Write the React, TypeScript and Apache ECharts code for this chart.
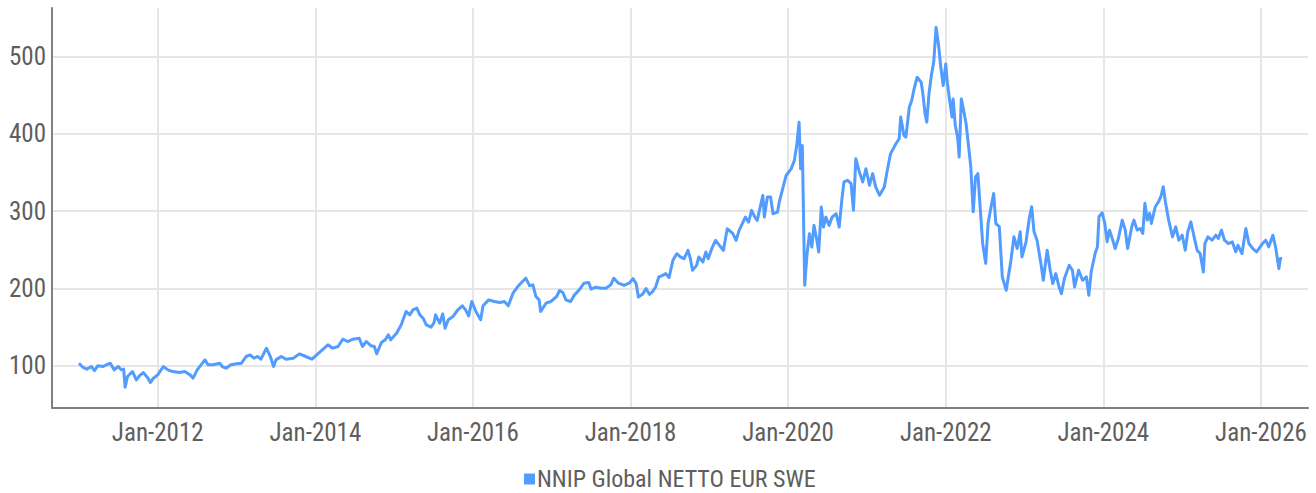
import React, { useEffect, useRef } from "react";
import * as echarts from "echarts";

const seriesName = "NNIP Global NETTO EUR SWE";

const dates: string[] = [
  "2011-01-01","2011-01-19","2011-02-06","2011-02-28","2011-03-14","2011-03-29","2011-04-23","2011-05-08","2011-05-26","2011-06-13",
  "2011-07-02","2011-07-16","2011-07-27","2011-08-03","2011-08-14","2011-09-06","2011-09-24","2011-10-08","2011-10-26","2011-11-17",
  "2011-11-28","2011-12-12","2012-01-01","2012-01-27","2012-02-17","2012-03-11","2012-04-12","2012-05-05","2012-05-30","2012-06-13",
  "2012-07-02","2012-07-20","2012-08-07","2012-08-21","2012-09-13","2012-10-15","2012-10-26","2012-11-13","2012-12-05","2013-01-01",
  "2013-01-23","2013-02-14","2013-03-04","2013-03-22","2013-04-09","2013-04-23","2013-05-19","2013-06-06","2013-06-21","2013-07-02",
  "2013-07-27","2013-08-18","2013-09-20","2013-10-19","2013-11-17","2013-12-16","2014-01-12","2014-02-06","2014-02-28","2014-03-22",
  "2014-04-16","2014-05-08","2014-05-30","2014-06-24","2014-07-23","2014-08-07","2014-08-25","2014-09-16","2014-10-01","2014-10-12",
  "2014-11-03","2014-11-21","2014-12-05","2014-12-16","2015-01-12","2015-02-03","2015-02-25","2015-03-14","2015-03-29","2015-04-16",
  "2015-04-30","2015-05-15","2015-05-30","2015-06-21","2015-07-05","2015-07-12","2015-07-31","2015-08-14","2015-08-25","2015-09-09",
  "2015-10-01","2015-10-23","2015-11-13","2015-11-28","2015-12-12","2015-12-27","2016-01-15","2016-02-06","2016-02-17","2016-03-14",
  "2016-04-09","2016-05-05","2016-05-26","2016-06-13","2016-07-05","2016-07-27","2016-08-18","2016-09-02","2016-09-20","2016-10-05",
  "2016-10-19","2016-11-03","2016-11-10","2016-12-05","2016-12-27","2017-01-23","2017-02-06","2017-02-21","2017-03-07","2017-03-29",
  "2017-04-16","2017-05-08","2017-05-30","2017-06-21","2017-07-02","2017-07-23","2017-08-18","2017-09-09","2017-10-01","2017-10-15",
  "2017-11-06","2017-12-02","2017-12-27","2018-01-12","2018-01-27","2018-02-06","2018-02-25","2018-03-14","2018-03-29","2018-04-12",
  "2018-04-27","2018-05-12","2018-05-30","2018-06-13","2018-06-28","2018-07-16","2018-08-03","2018-08-21","2018-09-06","2018-09-24",
  "2018-10-05","2018-10-15","2018-11-03","2018-11-13","2018-12-02","2018-12-16","2018-12-27","2019-01-15","2019-01-30","2019-02-17",
  "2019-03-07","2019-03-25","2019-04-20","2019-05-05","2019-05-19","2019-06-17","2019-07-02","2019-07-16","2019-07-31","2019-08-11",
  "2019-09-06","2019-09-13","2019-09-27","2019-10-12","2019-10-23","2019-11-13","2019-11-21","2019-12-05","2019-12-23","2020-01-15",
  "2020-01-30","2020-02-10","2020-02-21","2020-02-28","2020-03-07","2020-03-18","2020-03-29","2020-04-09","2020-04-20","2020-04-30",
  "2020-05-12","2020-05-22","2020-06-03","2020-06-13","2020-06-24","2020-07-09","2020-07-23","2020-08-11","2020-08-25","2020-09-06",
  "2020-09-16","2020-10-03","2020-10-19","2020-10-30","2020-11-10","2020-11-24","2020-12-12","2020-12-27","2021-01-12","2021-01-27",
  "2021-02-10","2021-02-28","2021-03-22","2021-04-05","2021-04-20","2021-05-15","2021-05-30","2021-06-06","2021-06-21","2021-06-30",
  "2021-07-16","2021-07-27","2021-08-07","2021-08-21","2021-09-09","2021-09-16","2021-09-27","2021-10-05","2021-10-15","2021-10-26",
  "2021-11-06","2021-11-17","2021-11-28","2021-12-09","2021-12-20","2022-01-01","2022-01-08","2022-01-19","2022-01-30","2022-02-04",
  "2022-02-14","2022-02-25","2022-03-04","2022-03-14","2022-03-25","2022-04-05","2022-04-12","2022-04-27","2022-05-08","2022-05-19",
  "2022-05-30","2022-06-06","2022-06-21","2022-07-05","2022-07-16","2022-07-27","2022-08-11","2022-08-21","2022-09-06","2022-09-20",
  "2022-10-08","2022-10-30","2022-11-13","2022-11-28","2022-12-12","2022-12-20","2023-01-08","2023-01-23","2023-02-03","2023-02-14",
  "2023-02-28","2023-03-18","2023-03-29","2023-04-16","2023-04-30","2023-05-12","2023-05-26","2023-06-10","2023-06-21","2023-07-05",
  "2023-07-27","2023-08-11","2023-08-21","2023-09-09","2023-09-27","2023-10-15","2023-10-26","2023-11-06","2023-11-24","2023-12-05",
  "2023-12-12","2023-12-27","2024-01-08","2024-01-19","2024-01-30","2024-02-14","2024-02-25","2024-03-11","2024-03-29","2024-04-12",
  "2024-04-23","2024-05-12","2024-05-22","2024-06-06","2024-06-21","2024-07-02","2024-07-12","2024-07-23","2024-08-03","2024-08-11",
  "2024-08-29","2024-09-13","2024-09-24","2024-10-05","2024-10-15","2024-10-30","2024-11-17","2024-12-02","2024-12-16","2025-01-01",
  "2025-01-15","2025-01-27","2025-02-10","2025-02-25","2025-03-11","2025-03-25","2025-04-09","2025-04-16","2025-04-30","2025-05-19",
  "2025-06-06","2025-06-17","2025-07-02","2025-07-16","2025-08-03","2025-08-21","2025-09-06","2025-09-16","2025-10-05","2025-10-23",
  "2025-11-06","2025-11-24","2025-12-12","2026-01-08","2026-01-23","2026-02-06","2026-02-25","2026-03-11","2026-03-25","2026-04-01",
  "2026-04-09",
];

const values: number[] = [
  103.0,97.8,95.3,98.7,93.5,99.6,98.7,100.9,103.0,94.4,
  98.7,94.4,95.3,72.0,85.8,92.2,81.4,86.6,90.9,83.6,
  78.0,83.6,87.9,98.7,94.4,92.2,90.9,92.2,87.9,83.6,
  94.4,100.9,107.3,100.9,100.9,103.0,98.7,96.5,100.9,102.2,
  103.0,111.7,113.8,109.5,111.7,108.2,122.4,111.7,98.7,107.3,
  111.7,108.2,109.5,115.1,111.7,108.2,115.1,121.2,126.8,122.5,
  124.6,134.1,131.1,134.1,135.4,124.6,131.1,125.5,124.6,115.1,
  129.8,133.3,139.7,133.3,141.9,152.7,170.0,165.6,172.1,174.3,
  165.6,161.3,152.7,149.7,155.7,165.6,154.8,166.9,148.4,159.2,
  163.5,172.1,177.3,172.1,164.3,182.9,170.0,159.2,177.3,185.0,
  182.9,181.6,182.9,177.3,193.7,202.3,208.8,213.1,203.2,204.5,
  189.4,185.0,170.0,180.7,182.9,189.4,197.2,194.6,185.0,182.9,
  191.5,198.0,206.6,207.5,198.9,201.5,200.2,200.2,204.5,213.1,
  206.6,203.9,206.9,212.5,206.0,188.8,192.2,199.6,192.2,195.3,
  201.7,214.7,216.8,219.0,213.8,236.2,244.8,240.5,238.4,249.1,
  238.4,223.3,229.7,240.5,234.1,247.0,238.4,253.4,262.1,255.6,
  249.1,277.2,270.7,262.1,275.0,292.2,285.8,300.9,292.2,287.9,
  320.3,292.2,318.1,318.1,296.6,298.7,311.6,326.7,346.1,354.7,
  365.5,384.9,415.1,354.7,384.9,203.9,244.8,270.7,253.4,281.5,
  264.2,247.0,305.2,279.3,292.2,281.5,292.2,296.6,279.3,314.1,
  337.7,339.9,335.6,301.1,367.9,352.8,337.7,354.9,333.4,348.5,
  331.3,320.5,331.3,352.8,374.4,387.2,393.7,421.7,398.0,395.8,
  434.6,443.2,458.2,473.3,466.9,453.9,426.0,415.2,451.8,475.5,
  492.7,537.9,516.4,486.2,462.6,490.5,466.9,443.2,421.7,445.3,
  410.9,395.8,370.0,445.3,430.3,413.1,395.8,357.1,299.0,344.2,
  348.5,318.4,258.1,232.3,283.9,301.1,322.7,283.9,280.0,214.7,
  197.4,236.4,266.7,251.5,273.2,240.7,260.2,290.5,305.6,273.2,
  262.3,232.0,210.4,249.4,223.4,206.1,219.0,201.7,193.1,212.6,
  229.9,223.4,201.7,223.4,210.4,214.7,190.9,221.2,245.0,253.7,
  292.6,297.8,284.0,260.2,275.3,262.3,251.5,264.5,288.3,275.3,
  251.5,279.7,288.3,275.3,277.5,271.0,310.0,288.3,297.0,284.0,
  305.6,312.1,318.6,331.6,312.1,288.3,266.7,279.7,262.3,268.8,
  249.4,273.2,286.1,266.7,249.4,245.0,221.2,258.0,266.7,262.3,
  268.8,264.5,275.3,262.3,258.0,260.2,247.2,255.8,245.0,277.5,
  258.0,251.5,247.2,258.0,262.3,253.7,268.8,251.5,225.5,238.5,
  238.5,
];

const xTickDates: string[] = ["2012-01-01","2014-01-01","2016-01-01","2018-01-01","2020-01-01","2022-01-01","2024-01-01","2026-01-01"];
const yTicks: number[] = [100, 200, 300, 400, 500];
const xRange: string[] = ["2010-08-29", "2026-08-07"];
const yRange: number[] = [45, 563];

const MONTHS = ["Jan","Feb","Mar","Apr","May","Jun","Jul","Aug","Sep","Oct","Nov","Dec"];
const FONT = "'Liberation Sans Narrow', 'Roboto Condensed', 'DejaVu Sans Condensed', sans-serif";
const ts = (d: string) => new Date(d + "T00:00:00Z").getTime();

export default function App() {
  const ref = useRef<HTMLDivElement>(null);
  useEffect(() => {
    if (!ref.current) return;
    const chart = echarts.init(ref.current, null, { renderer: "svg" });
    const xTicks = xTickDates.map(ts);
    chart.setOption({
      animation: false,
      backgroundColor: "#ffffff",
      textStyle: { fontFamily: FONT },
      grid: { left: 52, right: 8, top: 8, bottom: 85, containLabel: false },
      legend: {
        bottom: -3,
        left: 519,
        icon: "rect",
        itemWidth: 11,
        itemHeight: 11,
        itemGap: 4,
        textStyle: { fontFamily: FONT, fontSize: 24, color: "#5e5e5e", padding: [0, 0, 0, -3] },
        data: [seriesName],
      },
      xAxis: {
        type: "value",
        min: ts(xRange[0]),
        max: ts(xRange[1]),
        axisLine: { show: true, lineStyle: { color: "#808080", width: 2 } },
        axisTick: { show: false, customValues: xTicks },
        axisLabel: {
          customValues: xTicks,
          fontFamily: FONT,
          fontSize: 25,
          color: "#5e5e5e",
          margin: 12,
          formatter: (v: number) => {
            const d = new Date(v);
            return MONTHS[d.getUTCMonth()] + "-" + d.getUTCFullYear();
          },
        },
        splitLine: { show: true, lineStyle: { color: "#e6e6e6", width: 2 } },
      },
      yAxis: {
        type: "value",
        min: yRange[0],
        max: yRange[1],
        axisLine: { show: true, lineStyle: { color: "#808080", width: 2 } },
        axisTick: { show: false, customValues: yTicks },
        axisLabel: { customValues: yTicks, fontFamily: FONT, fontSize: 25, color: "#5e5e5e", margin: 6 },
        splitLine: { show: true, lineStyle: { color: "#e6e6e6", width: 2 } },
      },
      series: [
        {
          name: seriesName,
          type: "line",
          showSymbol: false,
          symbol: "none",
          color: "#529cff",
          lineStyle: { width: 3, color: "#529cff", join: "round" },
          data: dates.map((d, i) => [ts(d), values[i]]),
        },
      ],
    });
    return () => chart.dispose();
  }, []);
  return <div ref={ref} style={{ width: 1316, height: 493, position: "absolute", left: 0, top: 0 }} />;
}
